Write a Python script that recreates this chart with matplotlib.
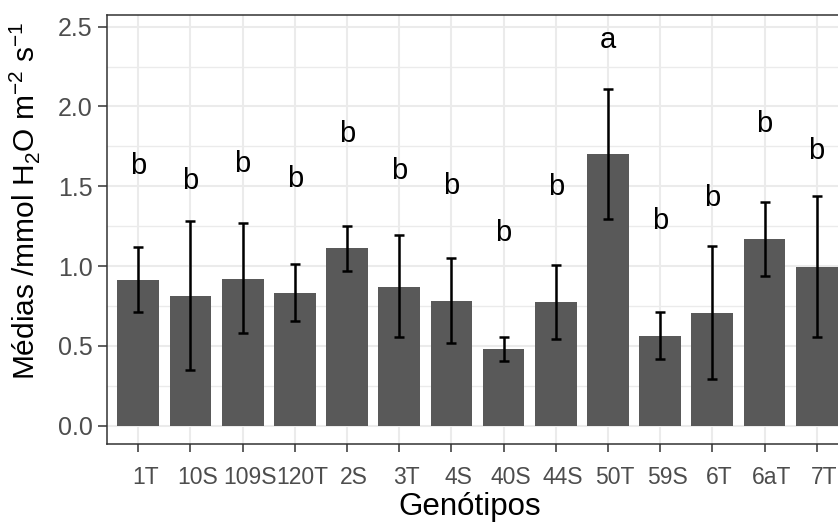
import matplotlib
matplotlib.use("Agg")
import matplotlib.pyplot as plt
import matplotlib.transforms as mtransforms
import numpy as np

plt.rcParams['font.family'] = ['Liberation Sans', 'DejaVu Sans']
plt.rcParams['mathtext.fontset'] = 'custom'
plt.rcParams['mathtext.rm'] = 'Liberation Sans'

# genotypes, means, error bar limits and letter groups
genotipos = ['1T', '10S', '109S', '120T', '2S', '3T', '4S', '40S', '44S', '50T', '59S', '6T', '6aT', '7T']
medias = [0.913, 0.815, 0.921, 0.833, 1.113, 0.871, 0.783, 0.481, 0.773, 1.702, 0.560, 0.706, 1.168, 0.996]
err_sup = [1.121, 1.284, 1.268, 1.011, 1.249, 1.193, 1.049, 0.558, 1.007, 2.111, 0.710, 1.126, 1.403, 1.441]
err_inf = [0.710, 0.349, 0.579, 0.658, 0.967, 0.558, 0.520, 0.407, 0.543, 1.297, 0.418, 0.293, 0.940, 0.558]
letras = ['b', 'b', 'b', 'b', 'b', 'b', 'b', 'b', 'b', 'a', 'b', 'b', 'b', 'b']
letras_y = [1.643, 1.550, 1.660, 1.566, 1.848, 1.613, 1.523, 1.226, 1.512, 2.437, 1.300, 1.446, 1.911, 1.738]

x = np.arange(len(genotipos))
medias = np.array(medias)
yerr = [medias - np.array(err_inf), np.array(err_sup) - medias]

fig = plt.figure(figsize=(8.38, 5.25), dpi=100)
ax = fig.add_axes([107 / 838, 81 / 525, 741 / 838, 429 / 525])

ax.set_axisbelow(True)
ax.bar(x, medias, width=0.8, color='#595959', zorder=2)
ax.errorbar(x, medias, yerr=yerr, fmt='none', ecolor='black', elinewidth=1.8,
            capsize=3.8, capthick=1.8, zorder=3)
for xi, lab, ly in zip(x, letras, letras_y):
    ax.text(xi, ly, lab, ha='center', va='center_baseline', fontsize=21, color='black', zorder=4)

ax.set_xlim(-0.6, len(genotipos) - 0.4)
ax.set_ylim(-0.115, 2.573)
ax.set_yticks([0.0, 0.5, 1.0, 1.5, 2.0, 2.5])
ax.set_yticks(np.arange(0.25, 2.5, 0.5), minor=True)
ax.set_xticks(x)
ax.set_xticklabels(genotipos)
ax.set_yticklabels(['0.0', '0.5', '1.0', '1.5', '2.0', '2.5'])

ax.grid(True, which='major', color='#EBEBEB', linewidth=1.5, zorder=0)
ax.grid(True, which='minor', axis='y', color='#EBEBEB', linewidth=1.0, zorder=0)
ax.tick_params(axis='both', which='major', color='#333333', width=1.1, labelcolor='#4D4D4D')
ax.tick_params(axis='y', which='major', length=6.5, pad=4, labelsize=18)
ax.tick_params(axis='x', which='major', length=5.5, pad=10, labelsize=16.5)
ax.tick_params(which='minor', length=0)
# the labels sit a little to the right of their ticks
offset = mtransforms.ScaledTranslation(7 / 100, 0, fig.dpi_scale_trans)
for lbl in ax.get_xticklabels():
    lbl.set_transform(lbl.get_transform() + offset)

for s in ax.spines.values():
    s.set_color('#333333')
    s.set_linewidth(1.1)

fig.text(470 / 838, 1 - 507 / 525, 'Genótipos', ha='center', va='center', fontsize=22.5, color='black')
fig.text(25 / 838, 1 - 201 / 525, r'Médias /mmol H$_2$O m$^{-2}$ s$^{-1}$', rotation=90,
         ha='center', va='center', fontsize=21.5, color='black')

fig.savefig('out.png', dpi=100)
